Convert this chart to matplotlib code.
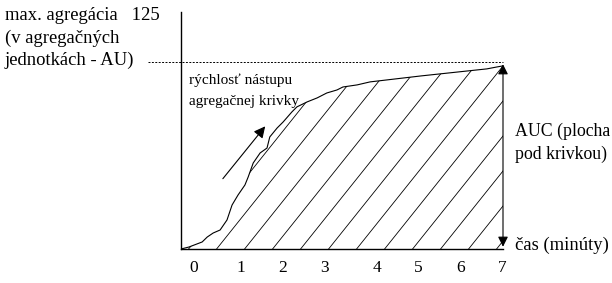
import numpy as np
import matplotlib
matplotlib.use("Agg")
import matplotlib.pyplot as plt
from matplotlib.patches import Polygon

plt.rcParams["font.family"] = ["Liberation Serif", "DejaVu Serif"]

# agregačná krivka (čas v min, agregácia v AU), odčítané z obrázka
t = [0.0, 0.17, 0.46, 0.57, 0.70, 0.85, 1.00, 1.11, 1.24, 1.39, 1.46, 1.57,
     1.72, 1.87, 1.93, 2.09, 2.22, 2.41, 2.52, 2.74, 2.96, 3.17, 3.39, 3.52,
     3.83, 4.11, 5.22, 6.65, 6.87, 7.0]
agg = [0.0, 1.3, 4.7, 8.0, 10.7, 12.7, 19.4, 29.4, 36.1, 42.8, 48.1, 57.5,
       64.2, 67.5, 74.9, 80.9, 84.9, 91.6, 95.0, 98.3, 101.0, 104.3, 106.3,
       108.3, 109.7, 111.7, 115.7, 120.4, 121.7, 122.4]
max_agg = 125
tick_pos = [0.28, 1.30, 2.22, 3.11, 4.26, 5.15, 6.07, 6.98]
tick_lab = ["0", "1", "2", "3", "4", "5", "6", "7"]

fig = plt.figure(figsize=(6.12, 2.83), dpi=100)
ax = fig.add_axes([181 / 612, 1 - 249 / 283, 322 / 612, 237 / 283])
ax.set_xlim(0, 7)
ax.set_ylim(0, 237 / 1.496)
for s in ["top", "right"]:
    ax.spines[s].set_visible(False)
ax.spines["left"].set_linewidth(1.0)
ax.spines["bottom"].set_linewidth(1.0)
ax.set_yticks([])
ax.set_xticks(tick_pos)
ax.set_xticklabels(tick_lab, fontsize=12.5)
ax.tick_params(axis="x", length=0, pad=8)

ax.plot(t, agg, color="black", lw=0.8)

# šrafovanie plochy pod krivkou
poly = Polygon(list(zip(t, agg)) + [(7.0, 0), (0, 0)], closed=True,
               facecolor="none", edgecolor="none")
ax.add_patch(poly)
xs = np.linspace(-8, 7, 200)
px_x = 322 / 7   # pixely na minútu
k = 1.25 * px_x / 1.496
for x0 in np.arange(-6.0, 7.0, 28 / px_x):
    ln, = ax.plot(xs, k * (xs - x0) - 3, color="black", lw=0.6)
    ln.set_clip_path(poly)

# prerušovaná čiara maxima
ax.plot([-0.72, 7.0], [max_agg, max_agg], color="black", lw=0.7,
        ls=(0, (2, 1.5)), clip_on=False)

# šípka AUC
ax.annotate("", xy=(7.0, 123.5), xytext=(7.0, 1.5),
            arrowprops=dict(arrowstyle="<|-|>", color="black", lw=0.8,
                            mutation_scale=15, shrinkA=0, shrinkB=0),
            annotation_clip=False)

# šípka rýchlosti nástupu
ax.annotate("", xy=(1.83, 82), xytext=(0.91, 47),
            arrowprops=dict(arrowstyle="-|>", color="black", lw=0.8,
                            mutation_scale=17, shrinkA=0, shrinkB=0))

fs = 13.4
fig.text(5 / 612, 1 - 16 / 283, "max. agregácia   125", fontsize=fs, va="center")
fig.text(5 / 612, 1 - 38 / 283, "(v agregačných", fontsize=fs, va="center")
fig.text(5 / 612, 1 - 60 / 283, "jednotkách - AU)", fontsize=fs, va="center")
fig.text(189 / 612, 1 - 80 / 283, "rýchlosť nástupu", fontsize=11, va="center")
fig.text(189 / 612, 1 - 101 / 283, "agregačnej krivky", fontsize=11, va="center")
fig.text(515 / 612, 1 - 131 / 283, "AUC (plocha", fontsize=12.8, va="center")
fig.text(515 / 612, 1 - 154 / 283, "pod krivkou)", fontsize=12.8, va="center")
fig.text(515 / 612, 1 - 245 / 283, "čas (minúty)", fontsize=fs, va="center")

fig.savefig("out.png", dpi=100)
